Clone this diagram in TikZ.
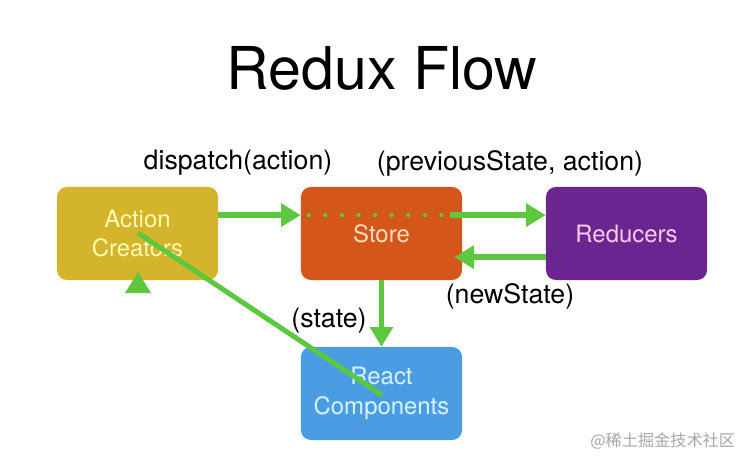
\documentclass[tikz,border=0pt]{standalone}
\usepackage{fontspec}
\setmainfont{TeX Gyre Heros}
\newfontfamily\cjk{Noto Sans CJK SC}
\usetikzlibrary{arrows.meta}
\definecolor{acyellow}{HTML}{D4B42C}
\definecolor{storeorange}{HTML}{D5561A}
\definecolor{redpurple}{HTML}{6A2590}
\definecolor{reactblue}{HTML}{4A9DE3}
\definecolor{flowgreen}{HTML}{5DC83F}
\tikzset{
	box/.style={rounded corners=7pt, minimum width=4.025cm, minimum height=2.325cm, align=center, font=\fontsize{17}{21}\selectfont},
	flow/.style={line width=4.2pt, color=flowgreen, -{Triangle[length=14pt,width=16pt]}},
	lbl/.style={font=\fontsize{19}{22}\selectfont}
}

\begin{document}
\begin{tikzpicture}[x=0.025cm, y=-0.025cm]
		%%%%% START %%%%%
		\useasboundingbox (0, 0) rectangle (744, 459);
		
		\node[font=\fontsize{42}{48}\selectfont] (title) at (382, 68) {Redux Flow};
		
		\node[box, fill=acyellow, text=yellow!30] (ac) at (137.5, 233.5) {Action\\Creators};
		\node[box, fill=storeorange, text=orange!25] (store) at (381.5, 233.5) {Store};
		\node[box, fill=redpurple, text=magenta!20] (red) at (626.5, 233.5) {Reducers};
		\node[box, fill=reactblue, text=cyan!15] (react) at (381.5, 393.5) {React\\Components};
		
		\draw[flow] ([yshift=0.46cm]ac.east) -- ([yshift=0.46cm]store.west);
		\draw[line width=3pt, color=flowgreen, line cap=round, dash pattern=on 0pt off 11.8pt] ([xshift=0.2cm, yshift=0.46cm]store.west) -- ([xshift=-0.5cm, yshift=0.46cm]store.east);
		\draw[flow] ([xshift=-0.3cm, yshift=0.46cm]store.east) -- ([yshift=0.46cm]red.west);
		\draw[flow] ([yshift=-0.59cm]red.west) -- ([xshift=-0.2cm, yshift=-0.59cm]store.east);
		\draw[flow] (store.south) -- (react.north);
		
		% line back to the creators
		\coordinate (back) at (138, 233);
		\coordinate (front) at (382, 395);
		\draw[line width=3.6pt, color=flowgreen] (front) -- (back);
		\fill[flowgreen] (138, 272) -- (151, 293) -- (125, 293) -- cycle;
		
		\node[lbl] (dispatch) at (238, 163) {dispatch(action)};
		\node[lbl] (prev) at (510, 163) {(previousState, action)};
		\node[lbl] (newstate) at (510, 296) {(newState)};
		\node[lbl] (state) at (329, 321) {(state)};
		
		\node[font=\cjk\fontsize{11.5}{13}\selectfont, color=black!35, anchor=east] (mark) at (740, 441) {@稀土掘金技术社区};
		%%%%% END %%%%%
	\end{tikzpicture}
\end{document}
